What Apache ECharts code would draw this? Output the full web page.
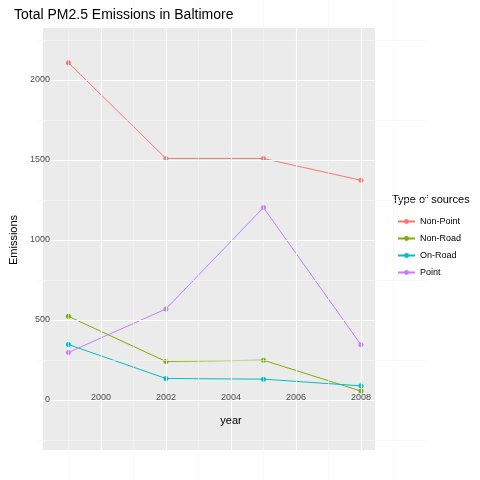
<!DOCTYPE html>
<html><head><meta charset="utf-8">
<script src="https://cdn.jsdelivr.net/npm/echarts@6/dist/echarts.min.js"></script>
<style>html,body{margin:0;padding:0;background:#fff}#c{width:480px;height:480px}</style>
</head><body><div id="c"></div>
<script>
const years = [1999, 2002, 2005, 2008];
const seriesNames = ["Non-Point", "Non-Road", "On-Road", "Point"];
const nonPoint = [2107.6, 1509.5, 1509.5, 1373.2];
const nonRoad = [522.9, 240.8, 248.9, 55.8];
const onRoad = [346.8, 134.3, 130.4, 88.3];
const point = [296.8, 569.3, 1202.5, 345.0];
const xTicks = [2000, 2002, 2004, 2006, 2008];
const yTicks = [0, 500, 1000, 1500, 2000];
const colors = ["#F8766D", "#7CAE00", "#00BFC4", "#C77CFF"];
const values = [nonPoint, nonRoad, onRoad, point];

const chart = echarts.init(document.getElementById('c'));
const lab = {color: '#4D4D4D', fontSize: 9, fontFamily: 'Liberation Sans'};
chart.setOption({
  animation: false,
  textStyle: {fontFamily: 'Liberation Sans'},
  title: {text: 'Total PM2.5 Emissions in Baltimore', left: 9, top: 3, z: 20,
    textStyle: {fontSize: 14, fontWeight: 'normal', color: '#000'}},
  grid: {left: 24.6, right: 54, top: -31, bottom: -53, show: false},
  graphic: [
    {type: 'rect', shape: {x: 43, y: 28, width: 332, height: 422}, style: {fill: '#EBEBEB'}, z: -10, silent: true},
    {type: 'rect', shape: {x: 0, y: 0, width: 43, height: 480}, style: {fill: '#fff'}, z: 5, silent: true},
    {type: 'rect', shape: {x: 0, y: 450, width: 480, height: 30}, style: {fill: '#fff'}, z: 5, silent: true},
    {type: 'rect', shape: {x: 0, y: 0, width: 480, height: 28}, style: {fill: '#fff'}, z: 5, silent: true},
    {type: 'rect', shape: {x: 375, y: 0, width: 105, height: 480}, style: {fill: '#fff'}, z: 5, silent: true},
    {type: 'text', left: 392, top: 194, z: 10,
      style: {text: 'Type of sources', fontSize: 11, fill: '#000', fontFamily: 'Liberation Sans'}}
  ],
  xAxis: {type: 'value', min: 1998, max: 2010, interval: 2, z: 10,
    name: 'year', nameLocation: 'middle', nameGap: -65,
    nameTextStyle: {fontSize: 11, color: '#000'},
    axisLine: {show: false}, axisTick: {show: false},
    axisLabel: Object.assign({margin: -87,
      formatter: v => xTicks.includes(v) ? String(v) : ''}, lab),
    splitLine: {show: true, lineStyle: {color: '#fff', width: 1.1}},
    minorTick: {show: false, splitNumber: 2},
    minorSplitLine: {show: true, lineStyle: {color: '#F5F5F5', width: 0.6}}},
  yAxis: {type: 'value', min: -500, max: 2500, interval: 500, z: 10,
    name: 'Emissions', nameLocation: 'middle', nameGap: 12,
    nameTextStyle: {fontSize: 11, color: '#000'},
    axisLine: {show: false}, axisTick: {show: false},
    axisLabel: Object.assign({margin: -14,
      formatter: v => yTicks.includes(v) ? String(v) : ''}, lab),
    splitLine: {show: true, lineStyle: {color: '#fff', width: 1.1}},
    minorTick: {show: false, splitNumber: 2},
    minorSplitLine: {show: true, lineStyle: {color: '#F5F5F5', width: 0.6}}},
  legend: {orient: 'vertical', left: 392, top: 212, itemGap: 8, z: 10,
    itemWidth: 17, itemHeight: 6,
    textStyle: {fontSize: 9, color: '#000'}, data: seriesNames},
  series: seriesNames.map((n, i) => ({
    name: n, type: 'line', color: colors[i], z: 3,
    data: years.map((y, j) => [y, values[i][j]]),
    symbol: 'circle', symbolSize: 5, lineStyle: {width: 1}
  }))
});
</script></body></html>
